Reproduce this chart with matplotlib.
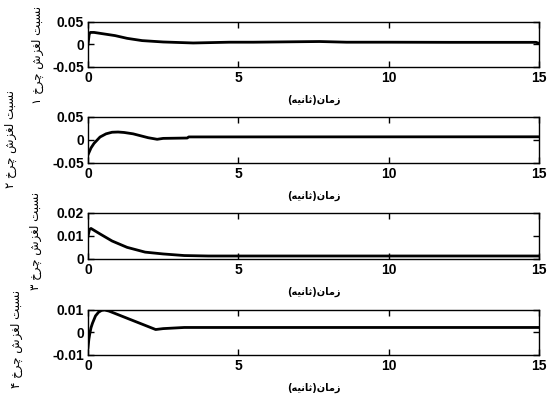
import matplotlib
matplotlib.use("Agg")
import matplotlib.pyplot as plt

plt.rcParams['axes.unicode_minus'] = False

# slip ratio of each wheel over time (s)
t1 = [0, 0.04, 0.08, 0.2, 0.5, 0.9, 1.3, 1.8, 2.5, 3.5, 4.7, 5.5, 7.7, 8.6, 10, 12, 14.9, 15]
s1 = [0, 0.022, 0.026, 0.026, 0.023, 0.019, 0.013, 0.008, 0.005, 0.0028, 0.0045, 0.0045,
      0.006, 0.0045, 0.0045, 0.0042, 0.0042, 0.002]

t2 = [0, 0.1, 0.2, 0.4, 0.6, 0.8, 1.0, 1.2, 1.5, 2.0, 2.3, 2.5, 3.3, 3.35, 15]
s2 = [-0.033, -0.018, -0.008, 0.006, 0.013, 0.0165, 0.017, 0.016, 0.013, 0.0045, 0.001,
      0.003, 0.0038, 0.0062, 0.0065]

t3 = [0, 0.05, 0.1, 0.4, 0.8, 1.3, 1.9, 2.5, 3.2, 4, 15]
s3 = [0.0098, 0.0128, 0.0132, 0.0108, 0.0077, 0.0049, 0.0028, 0.002, 0.0013, 0.0011, 0.0011]

t4 = [0, 0.03, 0.06, 0.1, 0.15, 0.25, 0.35, 0.45, 0.55, 0.7, 2.25, 2.5, 3.2, 15]
s4 = [-0.0067, -0.003, -0.0006, 0.002, 0.004, 0.0072, 0.0088, 0.0096, 0.0098, 0.0093,
      0.0012, 0.0016, 0.0021, 0.0021]

series = [(t1, s1), (t2, s2), (t3, s3), (t4, s4)]
ylims = [(-0.05, 0.05), (-0.05, 0.05), (0, 0.02), (-0.01, 0.01)]
yticks = [[-0.05, 0, 0.05], [-0.05, 0, 0.05], [0, 0.01, 0.02], [-0.01, 0, 0.01]]
ytick_labels = [["-0.05", "0", "0.05"], ["-0.05", "0", "0.05"],
                ["0", "0.01", "0.02"], ["-0.01", "0", "0.01"]]
xticks = [0, 5, 10, 15]

# Persian labels written in presentation forms, in visual (left-to-right) order
xlabel = "(\ufeea\ufef4\ufee7\ufe8e\ufe9b)\ufee5\ufe8e\ufee3\ufeaf"
ylabel_base = ("\ufea5\ufeae\ufb7c \ufeb5\ufeb0\ufed0\ufedf "
               "\ufe96\ufe92\ufeb4\ufee7")
digits = ["\u06f1", "\u06f2", "\u06f3", "\u06f4"]

W, H = 552, 401
fig = plt.figure(figsize=(W / 100, H / 100), dpi=100)
tops = [21.5, 117, 213, 309.5]
left, right, h = 88, 539, 45.5
# ylabel centres (px), staggered so they do not collide
lab_x = [37, 11, 36, 17]
lab_y = [55, 139, 241, 339]

for i, (t, s) in enumerate(series):
    ax = fig.add_axes([left / W, 1 - (tops[i] + h) / H, (right - left) / W, h / H])
    ax.plot(t, s, color='black', linewidth=2)
    ax.set_xlim(0, 15)
    ax.set_ylim(*ylims[i])
    ax.set_xticks(xticks)
    ax.set_xticklabels([str(x) for x in xticks], fontfamily='Liberation Sans',
                       fontweight='bold', fontsize=10)
    ax.set_yticks(yticks[i])
    ax.set_yticklabels(ytick_labels[i], fontfamily='Liberation Sans',
                       fontweight='bold', fontsize=10)
    ax.tick_params(direction='in', top=True, right=True, length=4, width=1, pad=3)
    for sp in ax.spines.values():
        sp.set_linewidth(1)
    ax.set_xlabel(xlabel, fontfamily='DejaVu Sans', fontweight='bold', fontsize=7, labelpad=7)
    fig.text(lab_x[i] / W, 1 - lab_y[i] / H, digits[i] + " " + ylabel_base,
             rotation=90, ha='center', va='center', fontfamily='DejaVu Sans', fontsize=8.5)

fig.savefig("out.png", dpi=100, facecolor='white')
